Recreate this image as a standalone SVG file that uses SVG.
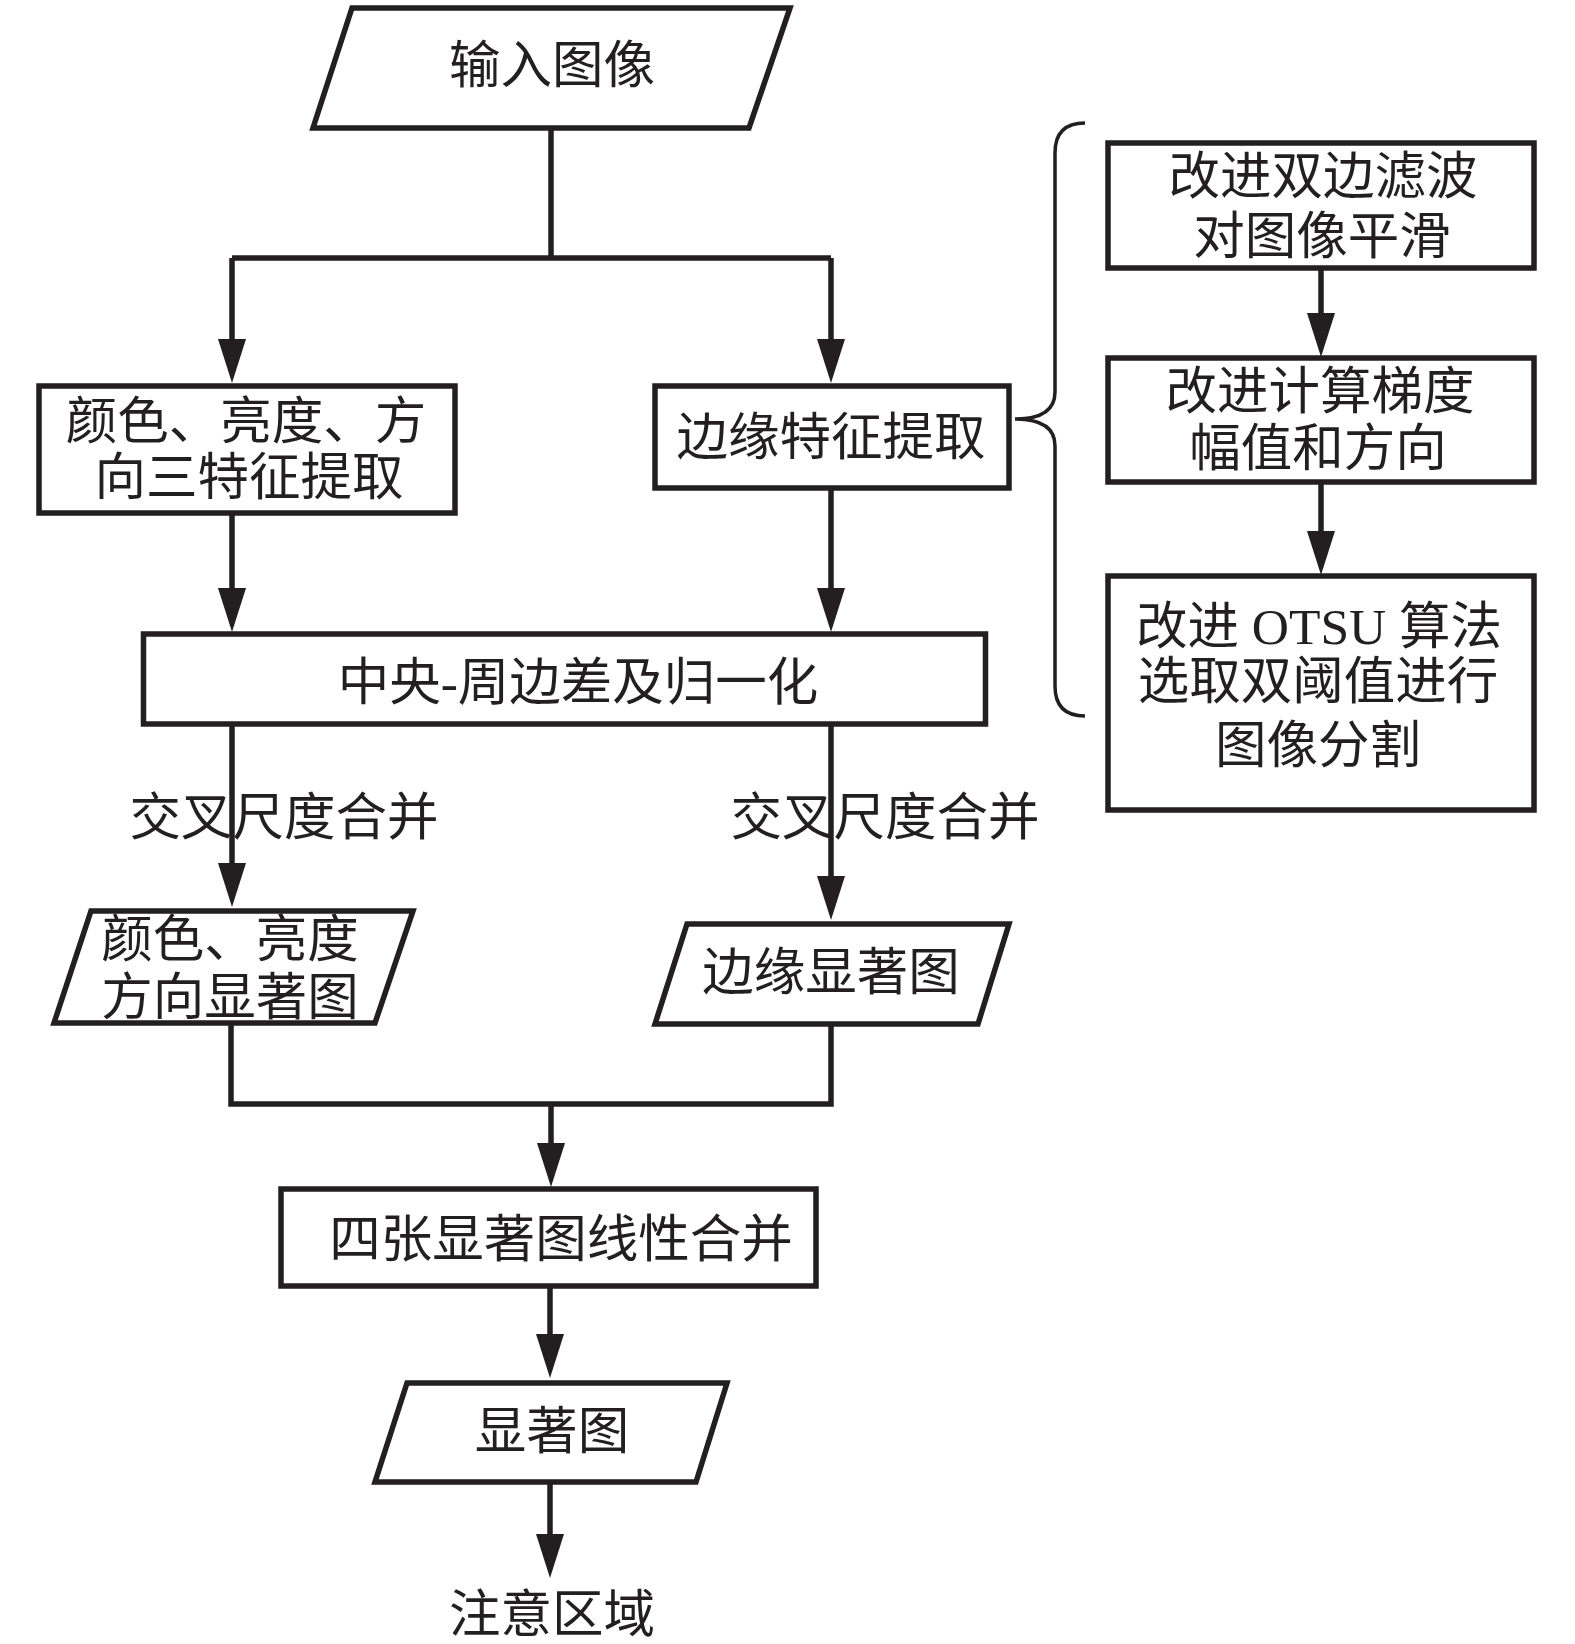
<svg xmlns="http://www.w3.org/2000/svg" width="1575" height="1644" viewBox="0 0 1575 1644">
<style>
.shape{fill:#fff;stroke:#231f20;stroke-width:5.5;stroke-linejoin:miter}
.conn{fill:none;stroke:#231f20;stroke-width:5.5}
.brace{fill:none;stroke:#231f20;stroke-width:3.5}
text{font-family:"Liberation Serif","Noto Sans CJK SC",serif;font-size:51.5px;fill:#231f20;text-anchor:middle;dominant-baseline:central}
</style>
<defs>
<marker id="ah" viewBox="0 0 44 28" refX="14" refY="14" markerWidth="44" markerHeight="28" orient="auto" markerUnits="userSpaceOnUse">
<path d="M0,0 L44,14 L0,28 Z" fill="#231f20"/>
</marker>
</defs>
<rect width="1575" height="1644" fill="#fff"/>
<g id="connectors">
<path class="conn" d="M551,128 V258"/>
<path class="conn" d="M232,258 H831"/>
<path class="conn" d="M232,258 V353" marker-end="url(#ah)"/>
<path class="conn" d="M831,258 V353" marker-end="url(#ah)"/>
<path class="conn" d="M232,513 V602" marker-end="url(#ah)"/>
<path class="conn" d="M831,488 V602" marker-end="url(#ah)"/>
<path class="conn" d="M232,724 V877" marker-end="url(#ah)"/>
<path class="conn" d="M831,724 V890" marker-end="url(#ah)"/>
<path class="conn" d="M231,1024 V1104 H831 V1024"/>
<path class="conn" d="M551,1104 V1157" marker-end="url(#ah)"/>
<path class="conn" d="M550,1286 V1348" marker-end="url(#ah)"/>
<path class="conn" d="M550,1482 V1548" marker-end="url(#ah)"/>
<path class="conn" d="M1321,268 V327" marker-end="url(#ah)"/>
<path class="conn" d="M1321,482 V545" marker-end="url(#ah)"/>
<path class="brace" d="M1085,123 Q1055,123 1055,153 L1055,392 Q1055,419 1015,419 Q1055,419 1055,446 L1055,686 Q1055,716 1085,716"/>
</g>
<g id="n-input">
<polygon class="shape" points="352,8 790,8 749,128 313,128"/>
<text x="552" y="65">输入图像</text>
</g>
<g id="n-color">
<rect class="shape" x="39" y="386" width="416" height="127"/>
<text x="246" y="421">颜色、亮度、方</text>
<text x="249" y="477">向三特征提取</text>
</g>
<g id="n-edge">
<rect class="shape" x="655" y="386" width="354" height="102"/>
<text x="831" y="437">边缘特征提取</text>
</g>
<g id="n-center">
<rect class="shape" x="143.5" y="634" width="842" height="90"/>
<text x="578" y="682">中央-周边差及归一化</text>
</g>
<g id="n-bilateral">
<rect class="shape" x="1108" y="143" width="426" height="125"/>
<text x="1323" y="176">改进双边滤波</text>
<text x="1322" y="236">对图像平滑</text>
</g>
<g id="n-gradient">
<rect class="shape" x="1108" y="358" width="426" height="124"/>
<text x="1320" y="391">改进计算梯度</text>
<text x="1318" y="448">幅值和方向</text>
</g>
<g id="n-otsu">
<rect class="shape" x="1108" y="576" width="426" height="234"/>
<text x="1319" y="626">改进 OTSU 算法</text>
<text x="1318" y="681">选取双阈值进行</text>
<text x="1318" y="745">图像分割</text>
</g>
<g id="l-cross-left"><text x="284" y="817">交叉尺度合并</text></g>
<g id="l-cross-right"><text x="885" y="817">交叉尺度合并</text></g>
<g id="n-colormap">
<polygon class="shape" points="91,911 413,911 375,1023 54,1023"/>
<text x="230" y="939">颜色、亮度</text>
<text x="230" y="997">方向显著图</text>
</g>
<g id="n-edgemap">
<polygon class="shape" points="687,924 1009,924 978,1024 655,1024"/>
<text x="831" y="972">边缘显著图</text>
</g>
<g id="n-merge">
<rect class="shape" x="281" y="1189" width="535" height="97"/>
<text x="561" y="1239">四张显著图线性合并</text>
</g>
<g id="n-saliency">
<polygon class="shape" points="407,1383 727,1383 696,1482 375,1482"/>
<text x="552" y="1431">显著图</text>
</g>
<g id="n-attention">
<text x="552" y="1614">注意区域</text>
</g>
</svg>
